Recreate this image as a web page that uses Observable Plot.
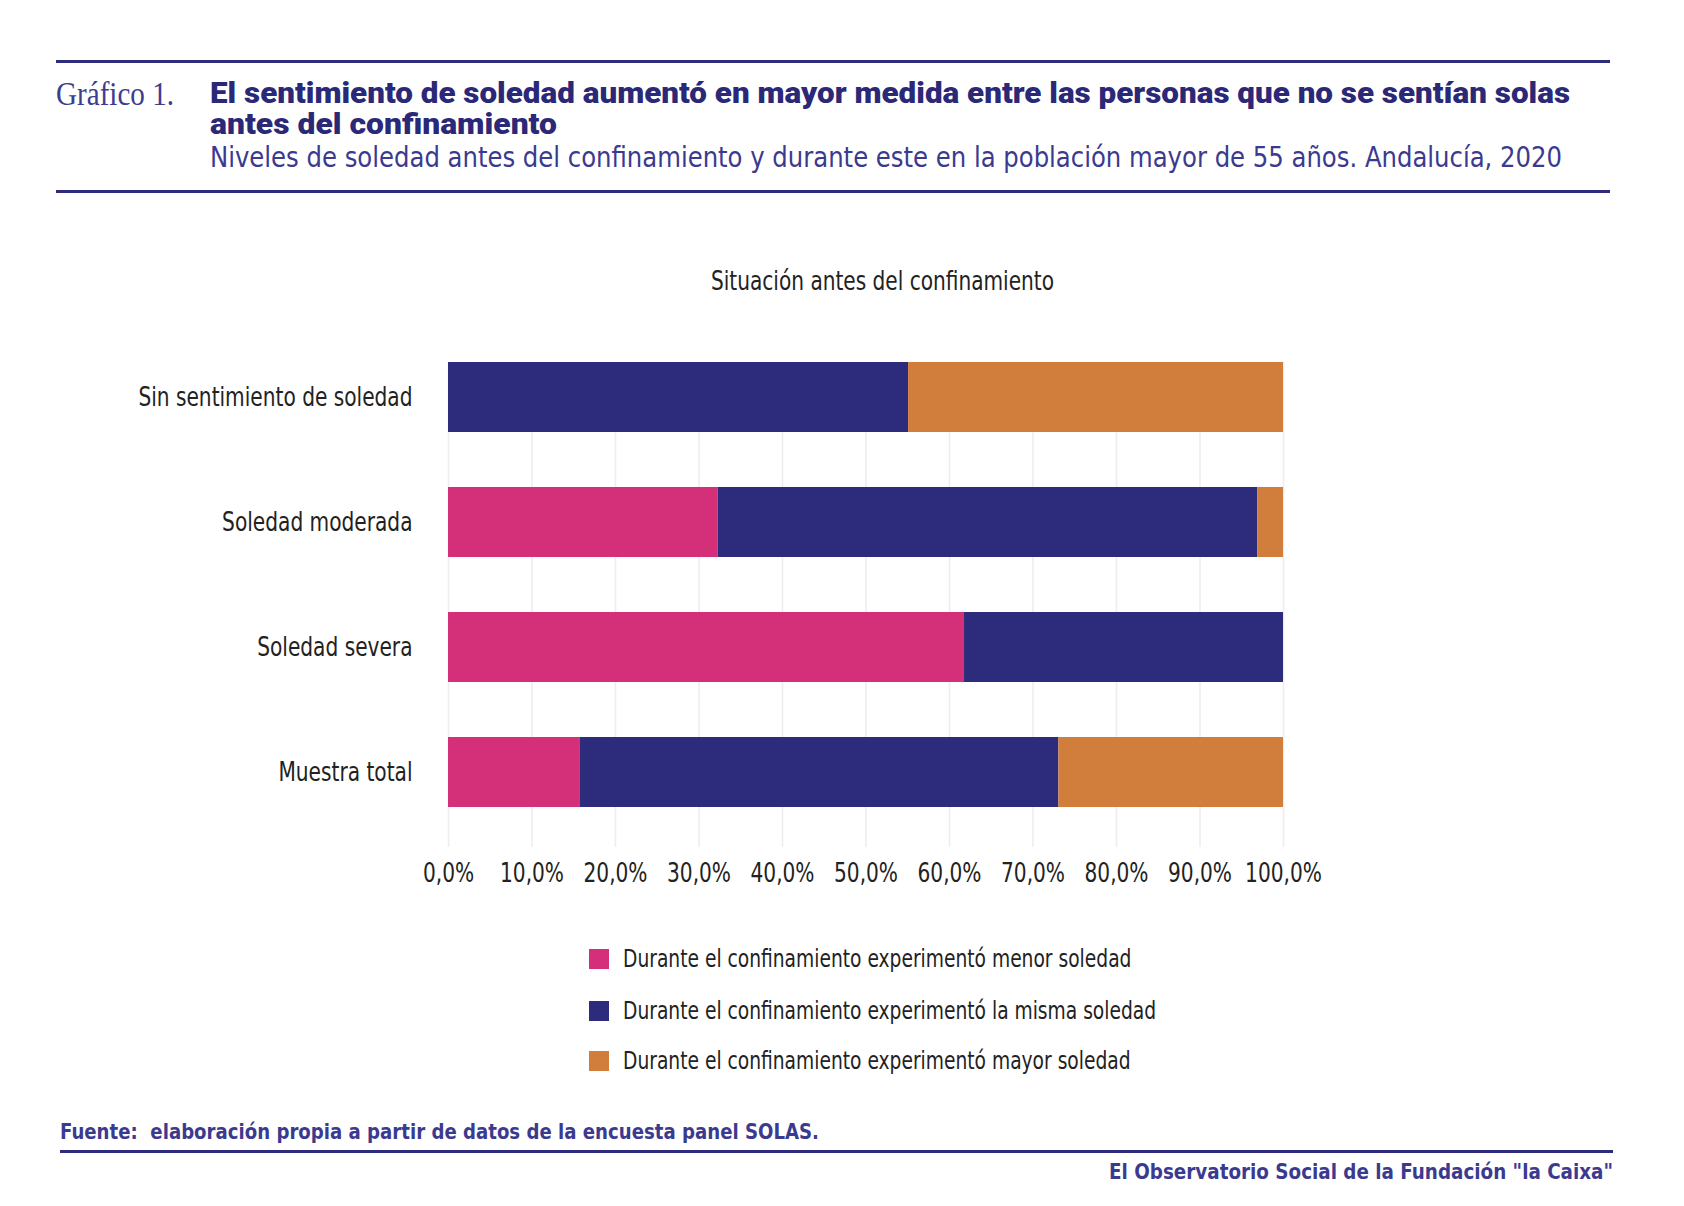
<!DOCTYPE html>
<html><head><meta charset="utf-8">
<script src="https://cdn.jsdelivr.net/npm/d3@7"></script>
<script src="https://cdn.jsdelivr.net/npm/@observablehq/plot@0.6"></script>
<style>
html,body{margin:0;padding:0;background:#fff;}
body{width:1684px;height:1206px;position:relative;overflow:hidden;}
.abs{position:absolute;white-space:nowrap;line-height:1;}
.narrow{font-family:"Liberation Sans Narrow","DejaVu Sans Condensed","Roboto Condensed",sans-serif;}
.rule{position:absolute;background:#2e2b7c;height:3px;}
#chart{position:absolute;left:0;top:300px;}
</style></head>
<body>
<div class="rule" style="left:56px;width:1554px;top:60px;"></div>
<div class="abs" id="g1" data-w="118" style="left:56px;top:78px;font-family:'Liberation Serif','DejaVu Serif',serif;font-size:33px;color:#3e3c8e;">Gráfico 1.</div>
<div class="abs" id="t1" data-w="1360" style="left:210px;top:79px;font-family:Roboto,'Liberation Sans',sans-serif;font-weight:900;font-size:29px;color:#2b2977;">El sentimiento de soledad aumentó en mayor medida entre las personas que no se sentían solas</div>
<div class="abs" id="t2" data-w="347" style="left:210px;top:110px;font-family:Roboto,'Liberation Sans',sans-serif;font-weight:900;font-size:29px;color:#2b2977;">antes del confinamiento</div>
<div class="abs narrow" id="st" data-w="1352" style="left:210px;top:144px;font-size:28px;color:#3b3a8f;">Niveles de soledad antes del confinamiento y durante este en la población mayor de 55 años. Andalucía, 2020</div>
<div class="rule" style="left:56px;width:1554px;top:190px;"></div>
<div class="abs narrow" id="ct" data-w="343" style="left:711px;top:267px;font-size:27px;color:#222;">Situación antes del confinamiento</div>
<div id="chart"></div>
<div id="legend"></div>
<div class="abs narrow" id="src" data-w="759" style="left:60px;top:1121px;font-size:22px;font-weight:700;color:#3b3a8f;">Fuente:&nbsp; elaboración propia a partir de datos de la encuesta panel SOLAS.</div>
<div class="rule" style="left:60px;width:1553px;top:1150px;"></div>
<div class="abs narrow" id="obs" data-w="504" data-r="1" style="right:71px;top:1161px;font-size:22px;font-weight:700;color:#3b3a8f;">El Observatorio Social de la Fundación "la Caixa"</div>
<script>
const categories = ["Sin sentimiento de soledad", "Soledad moderada", "Soledad severa", "Muestra total"];
const series = [
  "Durante el confinamiento experimentó menor soledad",
  "Durante el confinamiento experimentó la misma soledad",
  "Durante el confinamiento experimentó mayor soledad"
];
const menor = [0, 32.3, 61.8, 15.8];
const misma = [55.1, 64.6, 38.2, 57.3];
const mayor = [44.9, 3.1, 0, 26.9];
const colors = ["#d4307a", "#2c2b7c", "#d17d3b"];
const xTicks = [0, 10, 20, 30, 40, 50, 60, 70, 80, 90, 100];

const valuesBySeries = [menor, misma, mayor];
const data = [];
series.forEach((s, i) => categories.forEach((c, j) => data.push({cat: c, series: s, value: valuesBySeries[i][j]})));

const fontNarrow = '"Liberation Sans Narrow","DejaVu Sans Condensed","Roboto Condensed",sans-serif';
const chart = Plot.plot({
  width: 1684, height: 600,
  marginTop: 62, marginBottom: 53, marginLeft: 448, marginRight: 401,
  style: {fontFamily: fontNarrow, fontSize: "27px", color: "#222", background: "transparent"},
  x: {domain: [0, 100], label: null},
  y: {domain: categories, paddingInner: 0.441, paddingOuter: 0.156, align: 0, label: null},
  color: {domain: series, range: colors},
  marks: [
    Plot.ruleX(xTicks, {stroke: "#ececf1", strokeWidth: 1.5}),
    Plot.barX(data, {x: "value", y: "cat", fill: "series"}),
    Plot.axisX(xTicks, {tickSize: 0, tickPadding: 15, tickFormat: d => d.toFixed(1).replace(".", ",") + "%", fill: "#222", label: null}),
    Plot.axisY({tickSize: 0, tickPadding: 36, fill: "#222", label: null})
  ]
});
document.getElementById("chart").appendChild(chart);

// narrow the axis labels horizontally around their own anchors
const sx = 0.83;
chart.querySelectorAll("text").forEach(t => {
  const tr = t.getAttribute("transform") || "";
  t.setAttribute("transform", `${tr} scale(${sx},1)`);
});

const legend = document.getElementById("legend");
const legendTops = [959, 1011, 1061];
series.forEach((s, i) => {
  const sw = document.createElement("div");
  sw.style.cssText = `position:absolute;left:589px;top:${legendTops[i]-10}px;width:20px;height:20px;background:${colors[i]};`;
  legend.appendChild(sw);
  const t = document.createElement("div");
  t.className = "abs narrow";
  t.style.cssText += `left:623px;top:${legendTops[i]-13}px;font-size:25px;color:#222;transform-origin:left center;transform:scaleX(0.83);`;
  t.textContent = s;
  legend.appendChild(t);
});

document.querySelectorAll("[data-w]").forEach(el => {
  const target = +el.dataset.w;
  const w = el.getBoundingClientRect().width;
  el.style.transformOrigin = el.dataset.r ? "right center" : "left center";
  el.style.transform = `scaleX(${target / w})`;
});
</script>
</body></html>
